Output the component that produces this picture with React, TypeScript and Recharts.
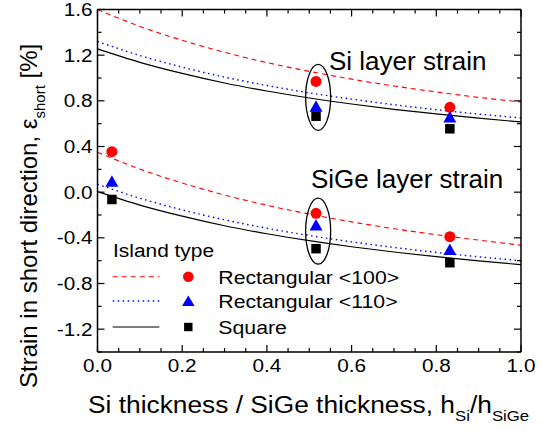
import React from 'react';
import { ComposedChart, Line, Scatter, XAxis, YAxis } from 'recharts';

// ---- data ----
const curveX = [0, 0.1, 0.2, 0.3, 0.4, 0.5, 0.6, 0.7, 0.8, 0.9, 1.0];
const siRect100 = [1.6, 1.452, 1.33, 1.225, 1.135, 1.058, 0.99, 0.93, 0.878, 0.83, 0.79];
const siRect110 = [1.32, 1.197, 1.095, 1.008, 0.934, 0.87, 0.815, 0.766, 0.722, 0.684, 0.65];
const siSquare = [1.255, 1.137, 1.04, 0.956, 0.886, 0.825, 0.772, 0.726, 0.685, 0.648, 0.615];
const sigeRect100 = [0.35, 0.202, 0.08, -0.025, -0.115, -0.192, -0.26, -0.32, -0.372, -0.42, -0.465];
const sigeRect110 = [0.07, -0.053, -0.155, -0.242, -0.316, -0.38, -0.435, -0.484, -0.528, -0.566, -0.6];
const sigeSquare = [0.005, -0.113, -0.21, -0.294, -0.364, -0.425, -0.478, -0.524, -0.565, -0.602, -0.635];

const siPointX = [0.516, 0.832];
const siPtRect100 = [0.97, 0.743];
const siPtRect110 = [0.753, 0.658];
const siPtSquare = [0.665, 0.555];

const sigePointX = [0.034, 0.516, 0.832];
const sigePtRect100 = [0.355, -0.185, -0.39];
const sigePtRect110 = [0.095, -0.287, -0.503];
const sigePtSquare = [-0.064, -0.495, -0.618];

const ellipseX = [0.521, 0.521];
const ellipseY = [0.831, -0.342];

const xTicks = [0, 0.05, 0.1, 0.15, 0.2, 0.25, 0.3, 0.35, 0.4, 0.45, 0.5, 0.55, 0.6, 0.65, 0.7, 0.75, 0.8, 0.85, 0.9, 0.95, 1.0];
const yTicks = [-1.4, -1.2, -1.0, -0.8, -0.6, -0.4, -0.2, 0, 0.2, 0.4, 0.6, 0.8, 1.0, 1.2, 1.4, 1.6];

const legendItems = ['Rectangular <100>', 'Rectangular <110>', 'Square'];

// ---- tables ----
const curveRows = curveX.map((x, i) => ({
  x,
  siRect100: siRect100[i],
  siRect110: siRect110[i],
  siSquare: siSquare[i],
  sigeRect100: sigeRect100[i],
  sigeRect110: sigeRect110[i],
  sigeSquare: sigeSquare[i],
}));
const pts = (xs: number[], ys: number[]) => xs.map((x, i) => ({ x, y: ys[i] }));
const rect100Pts = [...pts(siPointX, siPtRect100), ...pts(sigePointX, sigePtRect100)];
const rect110Pts = [...pts(siPointX, siPtRect110), ...pts(sigePointX, sigePtRect110)];
const squarePts = [...pts(siPointX, siPtSquare), ...pts(sigePointX, sigePtSquare)];
const ellipsePts = pts(ellipseX, ellipseY);

const FONT = '"Liberation Sans", Arial, Helvetica, sans-serif';
const RED = '#ff0000';
const BLUE = '#0000ff';
const TICK_FS = 18.5;
const TICK_SX = 1.12;

const isMajorX = (v: number) => Math.abs(v * 5 - Math.round(v * 5)) < 1e-6;
const isMajorY = (v: number) => Math.abs(v / 0.4 - Math.round(v / 0.4)) < 1e-6 && Math.abs(v + 1.4) > 1e-6;
const fmt = (v: number) => (Math.abs(v) < 1e-9 ? '0.0' : v.toFixed(1));

const BottomTick = (p: any) => {
  const v = p.payload.value;
  const major = isMajorX(v);
  return (
    <g>
      <line x1={p.x} y1={p.y} x2={p.x} y2={p.y - (major ? 7 : 4)} stroke="#000" strokeWidth={1.2} />
      {major && (
        <text
          transform={`translate(${p.x},${p.y + 20}) scale(${TICK_SX},1)`}
          textAnchor="middle"
          fontSize={TICK_FS}
          fontFamily={FONT}
          fill="#000"
        >
          {fmt(v)}
        </text>
      )}
    </g>
  );
};
const TopTick = (p: any) => {
  const major = isMajorX(p.payload.value);
  return <line x1={p.x} y1={p.y} x2={p.x} y2={p.y + (major ? 7 : 4)} stroke="#000" strokeWidth={1.2} />;
};
const LeftTick = (p: any) => {
  const v = p.payload.value;
  const major = isMajorY(v);
  return (
    <g>
      <line x1={p.x} y1={p.y} x2={p.x + (major ? 7 : 4)} y2={p.y} stroke="#000" strokeWidth={1.2} />
      {major && (
        <text
          transform={`translate(${p.x - 5},${p.y + 6.6}) scale(${TICK_SX},1)`}
          textAnchor="end"
          fontSize={TICK_FS}
          fontFamily={FONT}
          fill="#000"
        >
          {fmt(v)}
        </text>
      )}
    </g>
  );
};
const RightTick = (p: any) => {
  const major = isMajorY(p.payload.value);
  return <line x1={p.x} y1={p.y} x2={p.x - (major ? 7 : 4)} y2={p.y} stroke="#000" strokeWidth={1.2} />;
};

const CircleShape = (p: any) => <circle cx={p.cx} cy={p.cy} r={5.5} fill={RED} />;
const TriangleShape = (p: any) => (
  <polygon
    points={`${p.cx},${p.cy - 6} ${p.cx - 6.5},${p.cy + 5.5} ${p.cx + 6.5},${p.cy + 5.5}`}
    fill={BLUE}
  />
);
const SquareShape = (p: any) => <rect x={p.cx - 4.75} y={p.cy - 4.75} width={9.5} height={9.5} fill="#000" />;
const EllipseShape = (p: any) => (
  <ellipse cx={p.cx} cy={p.cy} rx={12.5} ry={33} fill="none" stroke="#000" strokeWidth={1.3} />
);

const axisLine = { stroke: '#000', strokeWidth: 1.5 };

export default function App() {
  const rowY = [276.7, 301, 327];
  return (
    <div style={{ position: 'absolute', left: 0, top: 0, width: 543, height: 431, background: '#fff' }}>
      <ComposedChart
        width={543}
        height={431}
        data={curveRows}
        margin={{ top: 8.5, right: 21, bottom: 78, left: 0 }}
      >
        <XAxis
          xAxisId="b"
          dataKey="x"
          type="number"
          domain={[0, 1]}
          ticks={xTicks}
          interval={0}
          height={1}
          tickSize={0}
          tickMargin={0}
          tickLine={false}
          axisLine={axisLine}
          tick={(p: any) => <BottomTick {...p} />}
          allowDataOverflow
        />
        <XAxis
          xAxisId="t"
          orientation="top"
          dataKey="x"
          type="number"
          domain={[0, 1]}
          ticks={xTicks}
          interval={0}
          height={1}
          tickSize={0}
          tickMargin={0}
          tickLine={false}
          axisLine={axisLine}
          tick={(p: any) => <TopTick {...p} />}
          allowDataOverflow
        />
        <YAxis
          yAxisId="l"
          dataKey="y"
          type="number"
          domain={[-1.4, 1.6]}
          ticks={yTicks}
          interval={0}
          width={97.5}
          tickSize={0}
          tickMargin={0}
          tickLine={false}
          axisLine={axisLine}
          tick={(p: any) => <LeftTick {...p} />}
          allowDataOverflow
        />
        <YAxis
          yAxisId="r"
          orientation="right"
          dataKey="y"
          type="number"
          domain={[-1.4, 1.6]}
          ticks={yTicks}
          interval={0}
          width={1}
          tickSize={0}
          tickMargin={0}
          tickLine={false}
          axisLine={axisLine}
          tick={(p: any) => <RightTick {...p} />}
          allowDataOverflow
        />

        <Line xAxisId="b" yAxisId="l" type="monotone" dataKey="siRect100" stroke={RED} strokeWidth={1.1} strokeDasharray="5 4" dot={false} activeDot={false} isAnimationActive={false} />
        <Line xAxisId="b" yAxisId="l" type="monotone" dataKey="siRect110" stroke={BLUE} strokeWidth={1.4} strokeDasharray="1.5 3.5" dot={false} activeDot={false} isAnimationActive={false} />
        <Line xAxisId="b" yAxisId="l" type="monotone" dataKey="siSquare" stroke="#000" strokeWidth={1.2} dot={false} activeDot={false} isAnimationActive={false} />
        <Line xAxisId="b" yAxisId="l" type="monotone" dataKey="sigeRect100" stroke={RED} strokeWidth={1.1} strokeDasharray="5 4" dot={false} activeDot={false} isAnimationActive={false} />
        <Line xAxisId="b" yAxisId="l" type="monotone" dataKey="sigeRect110" stroke={BLUE} strokeWidth={1.4} strokeDasharray="1.5 3.5" dot={false} activeDot={false} isAnimationActive={false} />
        <Line xAxisId="b" yAxisId="l" type="monotone" dataKey="sigeSquare" stroke="#000" strokeWidth={1.2} dot={false} activeDot={false} isAnimationActive={false} />

        <Scatter xAxisId="b" yAxisId="l" data={ellipsePts} shape={EllipseShape} isAnimationActive={false} />
        <Scatter xAxisId="b" yAxisId="l" data={rect100Pts} shape={CircleShape} isAnimationActive={false} />
        <Scatter xAxisId="b" yAxisId="l" data={rect110Pts} shape={TriangleShape} isAnimationActive={false} />
        <Scatter xAxisId="b" yAxisId="l" data={squarePts} shape={SquareShape} isAnimationActive={false} />
      </ComposedChart>

      <svg
        width={543}
        height={431}
        style={{ position: 'absolute', left: 0, top: 0, pointerEvents: 'none' }}
        fontFamily={FONT}
      >
        <text x={329} y={70} fontSize={26} fill="#000">Si layer strain</text>
        <text x={311} y={187.5} fontSize={26} fill="#000">SiGe layer strain</text>

        <text transform="translate(88,413) scale(1.12,1)" x={0} y={0} fontSize={23.5} fill="#000">
          Si thickness / SiGe thickness, h
          <tspan fontSize={15} dy={8}>Si</tspan>
          <tspan fontSize={23.5} dy={-8}>/h</tspan>
          <tspan fontSize={15} dy={8}>SiGe</tspan>
        </text>

        <text transform="translate(37,388) rotate(-90)" x={0} y={0} fontSize={24} fill="#000">
          Strain in short direction, ε
          <tspan fontSize={15} dy={8}>short</tspan>
          <tspan fontSize={24} dy={-8}> [%]</tspan>
        </text>

        <g transform="translate(113,257) scale(1.1,1)">
          <text x={0} y={0} fontSize={19} fill="#000">Island type</text>
        </g>
        <line x1={112.7} y1={rowY[0]} x2={159.3} y2={rowY[0]} stroke={RED} strokeWidth={1.1} strokeDasharray="5 4" />
        <line x1={112.7} y1={rowY[1]} x2={159.3} y2={rowY[1]} stroke={BLUE} strokeWidth={1.4} strokeDasharray="1.5 3.5" />
        <line x1={112.7} y1={rowY[2]} x2={159.3} y2={rowY[2]} stroke="#000" strokeWidth={1.2} />
        <circle cx={188.3} cy={rowY[0]} r={5.3} fill={RED} />
        <polygon points={`188.3,${rowY[1] - 5.5} 182,${rowY[1] + 5} 194.6,${rowY[1] + 5}`} fill={BLUE} />
        <rect x={184.1} y={rowY[2] - 4.2} width={8.4} height={8.4} fill="#000" />
        {legendItems.map((t, i) => (
          <text key={t} transform={`translate(218.3,${rowY[i] + 7}) scale(1.12,1)`} x={0} y={0} fontSize={19} fill="#000">
            {t}
          </text>
        ))}
      </svg>
    </div>
  );
}
